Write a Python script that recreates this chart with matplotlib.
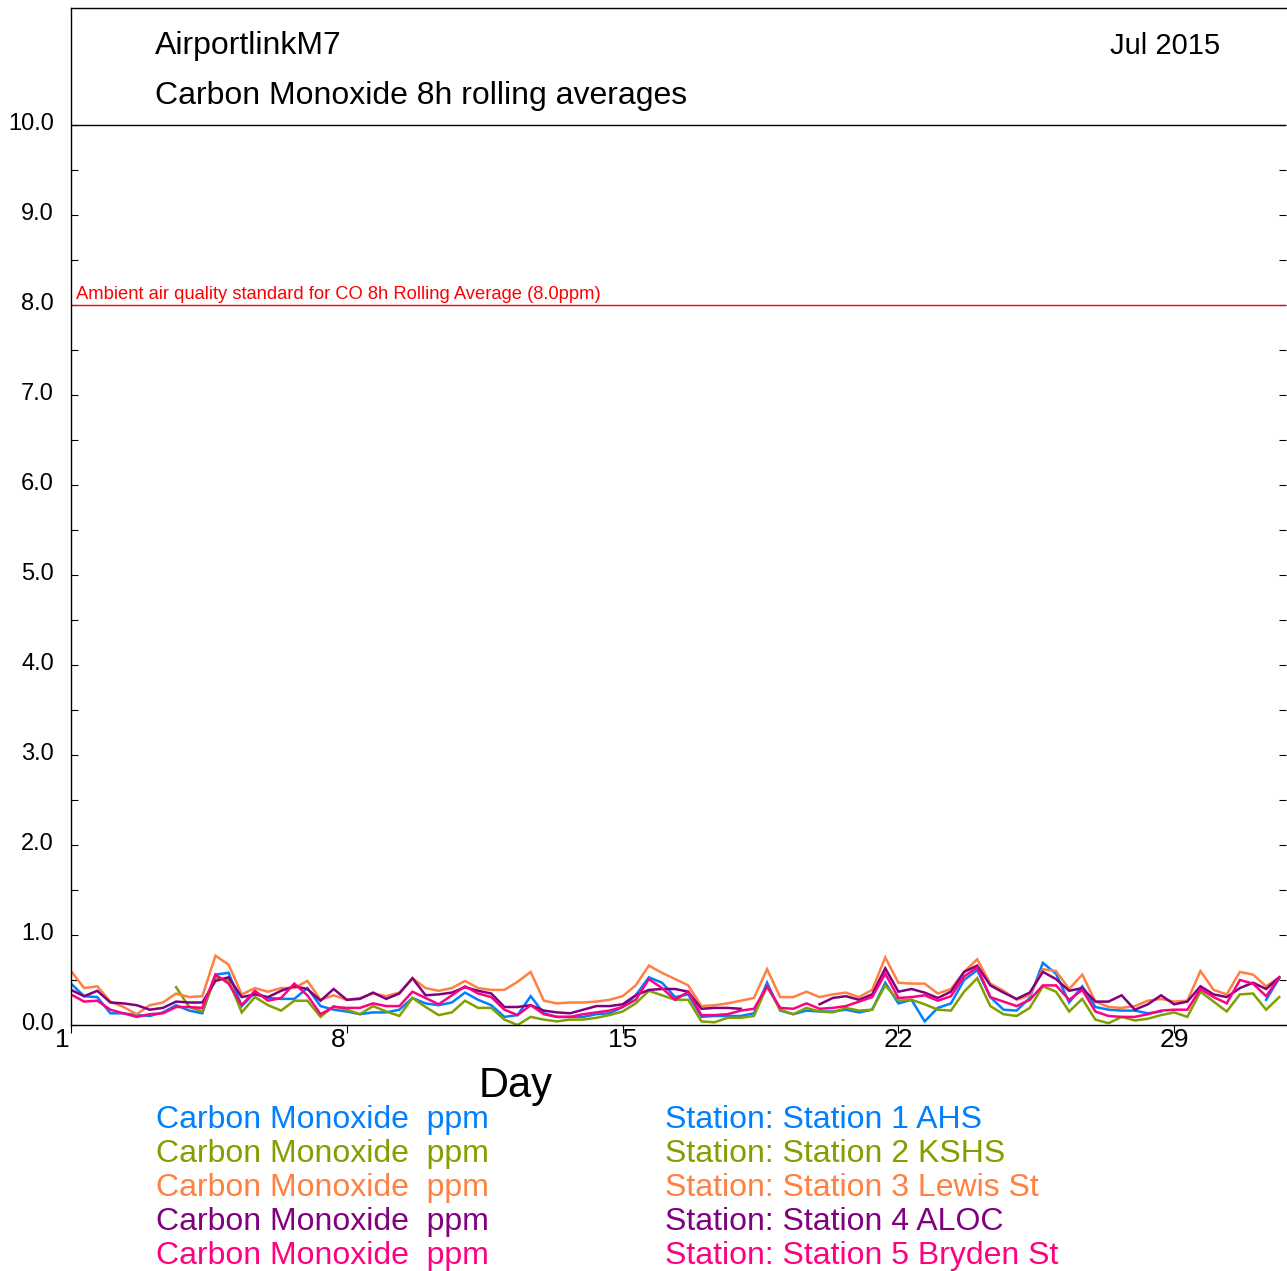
import numpy as np
import matplotlib
matplotlib.use("Agg")
import matplotlib.pyplot as plt
from matplotlib.ticker import FixedLocator
from matplotlib.transforms import ScaledTranslation

plt.rcParams['font.family'] = ['Liberation Sans', 'DejaVu Sans']

nan = np.nan

# ---- data (8-hourly samples starting 1 Jul 2015 00:00) ----
sample_step_hours = 8
day_ticks = [1, 8, 15, 22, 29]
day_tick_labels = ["1", "8", "15", "22", "29"]
y_ticks = [0, 1, 2, 3, 4, 5, 6, 7, 8, 9, 10]
y_tick_labels = ["0.0", "1.0", "2.0", "3.0", "4.0", "5.0", "6.0", "7.0", "8.0", "9.0", "10.0"]
standard_value = 8.0
standard_label = "Ambient air quality standard for CO 8h Rolling Average (8.0ppm)"

station_names = ["Station 1 AHS", "Station 2 KSHS", "Station 3 Lewis St",
                 "Station 4 ALOC", "Station 5 Bryden St"]
parameter_label = "Carbon Monoxide  ppm"

s1_ahs = [0.46, 0.32, 0.31, 0.13, 0.13, 0.11, 0.10, 0.14, 0.22, 0.16, 0.13, 0.56, 0.58, 0.21, 0.36, 0.30,
          0.29, 0.29, 0.41, 0.21, 0.17, 0.15, 0.12, 0.14,
          0.14, 0.17, 0.30, 0.24, 0.22, 0.25, 0.36, 0.28, 0.22, 0.09, 0.11, 0.32, 0.13, 0.09, 0.09, 0.09,
          0.12, 0.13, 0.20, 0.33, 0.53, 0.47, 0.31,
          0.34, 0.09, 0.10, 0.10, 0.10, 0.13, 0.47, 0.16, 0.12, 0.16, 0.15, 0.15, 0.17, 0.14, 0.17, 0.47,
          0.24, 0.28, 0.04, 0.19, 0.24, 0.50, 0.61,
          0.31, 0.17, 0.16, 0.30, 0.69, 0.57, 0.25, 0.43,
          0.20, 0.17, 0.16, 0.16, 0.13, 0.15, nan, nan, nan, nan, nan, nan, nan, 0.28, 0.52]

s2_kshs = [nan, nan, nan, nan, nan, nan, nan, nan, 0.42, 0.20, 0.15, 0.53, 0.50, 0.14, 0.31, 0.22,
           0.16, 0.27, 0.27, 0.09, 0.21, 0.17, 0.12, 0.21,
           0.15, 0.10, 0.30, 0.20, 0.11, 0.14, 0.27, 0.19, 0.19, 0.06, 0.00, 0.09, 0.06, 0.04, 0.06, 0.06,
           0.08, 0.11, 0.15, 0.24, 0.38, 0.33, 0.28,
           0.28, 0.04, 0.03, 0.08, 0.08, 0.10, 0.43, 0.17, 0.12, 0.19, 0.15, 0.14, 0.19, 0.16, 0.17, 0.44,
           0.27, 0.28, 0.23, 0.17, 0.16, 0.37, 0.52,
           0.21, 0.12, 0.10, 0.19, 0.43, 0.37, 0.15, 0.29,
           0.06, 0.02, 0.09, 0.05, 0.07, 0.11, 0.14, 0.09, 0.37, 0.26, 0.15, 0.34, 0.35, 0.17, 0.31]

s3_lewis = [0.60, 0.41, 0.43, 0.26, 0.20, 0.12, 0.22, 0.25, 0.35, 0.31, 0.32, 0.77, 0.67, 0.34, 0.41, 0.37,
            0.41, 0.41, 0.49, 0.28, 0.33, 0.28, 0.30, 0.35,
            0.32, 0.36, 0.52, 0.41, 0.38, 0.41, 0.49, 0.41, 0.39, 0.39, 0.48, 0.59, 0.27, 0.24, 0.25, 0.25,
            0.26, 0.28, 0.32, 0.44, 0.66, 0.58, 0.51,
            0.44, 0.21, 0.22, 0.24, 0.27, 0.30, 0.62, 0.31, 0.31, 0.37, 0.31, 0.34, 0.36, 0.31, 0.39, 0.75,
            0.47, 0.46, 0.46, 0.35, 0.40, 0.59, 0.73,
            0.46, 0.38, 0.28, 0.33, 0.62, 0.60, 0.40, 0.56,
            0.26, 0.20, 0.19, 0.21, 0.27, 0.29, 0.26, 0.27, 0.60, 0.39, 0.34, 0.59, 0.56, 0.43, 0.53]

s4_aloc = [0.39, 0.32, 0.38, 0.25, 0.24, 0.22, 0.17, 0.19, 0.26, 0.25, 0.25, 0.49, 0.53, 0.31, 0.34, 0.31,
           0.38, 0.43, 0.40, 0.27, 0.40, 0.28, 0.29, 0.36,
           0.29, 0.35, 0.52, 0.33, 0.34, 0.36, 0.42, 0.38, 0.35, 0.20, 0.20, 0.22, 0.16, 0.14, 0.13, 0.17,
           0.21, 0.21, 0.23, 0.33, 0.39, 0.40, 0.40,
           0.37, 0.18, 0.19, 0.19, 0.18, nan, nan, nan, nan, nan, 0.23, 0.30, 0.32, 0.28, 0.34, 0.63,
           0.37, 0.40, 0.36, 0.30, 0.37, 0.59, 0.66,
           0.44, 0.36, 0.29, 0.36, 0.59, 0.51, 0.38, 0.41,
           0.26, 0.26, 0.33, 0.17, 0.23, 0.33, 0.23, 0.26, 0.43, 0.34, 0.31, 0.41, 0.47, 0.40, 0.53]

s5_bryden = [0.34, 0.26, 0.27, 0.17, 0.13, 0.09, 0.12, 0.13, 0.20, 0.20, 0.19, 0.56, 0.46, 0.22, 0.38, 0.27,
             0.30, 0.46, 0.33, 0.12, 0.20, 0.19, 0.19, 0.24,
             0.21, 0.21, 0.37, 0.30, 0.23, 0.33, 0.43, 0.35, 0.31, 0.17, 0.11, 0.22, 0.12, 0.09, 0.09, 0.12,
             0.14, 0.16, 0.20, 0.28, 0.51, 0.41, 0.28,
             0.37, 0.11, 0.11, 0.12, 0.16, 0.18, 0.43, 0.19, 0.18, 0.24, 0.18, 0.19, 0.21, 0.26, 0.31, 0.57,
             0.30, 0.31, 0.33, 0.27, 0.32, 0.54, 0.64,
             0.31, 0.26, 0.21, 0.28, 0.44, 0.44, 0.28, 0.39,
             0.15, 0.10, 0.09, 0.09, 0.12, 0.16, 0.17, 0.17, 0.40, 0.31, 0.24, 0.50, 0.46, 0.32, 0.53]

series = [s1_ahs, s2_kshs, s3_lewis, s4_aloc, s5_bryden]
colors = ["#0080FF", "#80A000", "#FF8040", "#800080", "#FF0080"]

# ---- figure ----
W, H = 1287, 1271
fig = plt.figure(figsize=(W / 100, H / 100), dpi=100)
x0, x1, ybot, ytop = 71, 1286, 1025, 8
ax = fig.add_axes([x0 / W, (H - ybot) / H, (x1 - x0) / W, (ybot - ytop) / H])

n = len(s1_ahs)
days = 1 + np.arange(n) * sample_step_hours / 24.0
for s, c in zip(series, colors):
    ax.plot(days, np.array(s, dtype=float), color=c, lw=1.8, solid_joinstyle='miter')

px_per_day = 39.4
ax.set_xlim(1, 1 + (x1 - x0) / px_per_day)
ax.set_ylim(0, (ybot - ytop) / 90.0)

ax.axhline(10, color='black', lw=1.0)
ax.axhline(standard_value, color='red', lw=1.0)
ax.text(1 + 5 / px_per_day, standard_value + 6 / 90.0, standard_label, color='red',
        fontsize=13.2, va='baseline', ha='left')

ax.spines['right'].set_visible(False)
for sp in ['left', 'top', 'bottom']:
    ax.spines[sp].set_linewidth(1.0)

ax.yaxis.set_major_locator(FixedLocator(y_ticks))
ax.set_yticklabels(y_tick_labels)
ax.yaxis.set_minor_locator(FixedLocator([v + 0.5 for v in y_ticks[:-1]]))
ax.tick_params(axis='y', which='both', direction='in', length=5, width=0.8,
               left=True, right=True, labelleft=True, labelright=False, labelsize=17, pad=11.5)
for lab in ax.get_yticklabels():
    lab.set_transform(lab.get_transform() + ScaledTranslation(-1 / 100, 3 / 100, fig.dpi_scale_trans))

ax.set_xticks(day_ticks)
ax.set_xticklabels(day_tick_labels)
ax.tick_params(axis='x', which='major', direction='out', length=6, width=0.8,
               labelsize=19, pad=-4)
for lab in ax.get_xticklabels():
    if len(lab.get_text()) == 1:
        lab.set_transform(lab.get_transform() + ScaledTranslation(-9 / 100, 0, fig.dpi_scale_trans))

# titles
fig.text(155 / W, 1 - 54 / H, "AirportlinkM7", fontsize=23, va='baseline', ha='left')
fig.text(155 / W, 1 - 104 / H, "Carbon Monoxide 8h rolling averages", fontsize=23, va='baseline', ha='left')
fig.text(1220 / W, 1 - 54 / H, "Jul 2015", fontsize=21, va='baseline', ha='right')

fig.text(516 / W, 1 - 1097 / H, "Day", fontsize=30, va='baseline', ha='center')

# legend rows
for i, (name, c) in enumerate(zip(station_names, colors)):
    yb = 1 - (1128 + 34 * i) / H
    fig.text(156 / W, yb, parameter_label, color=c, fontsize=23, va='baseline', ha='left')
    fig.text(665 / W, yb, "Station: " + name, color=c, fontsize=23, va='baseline', ha='left')

fig.savefig("out.png", dpi=100, facecolor='white')
